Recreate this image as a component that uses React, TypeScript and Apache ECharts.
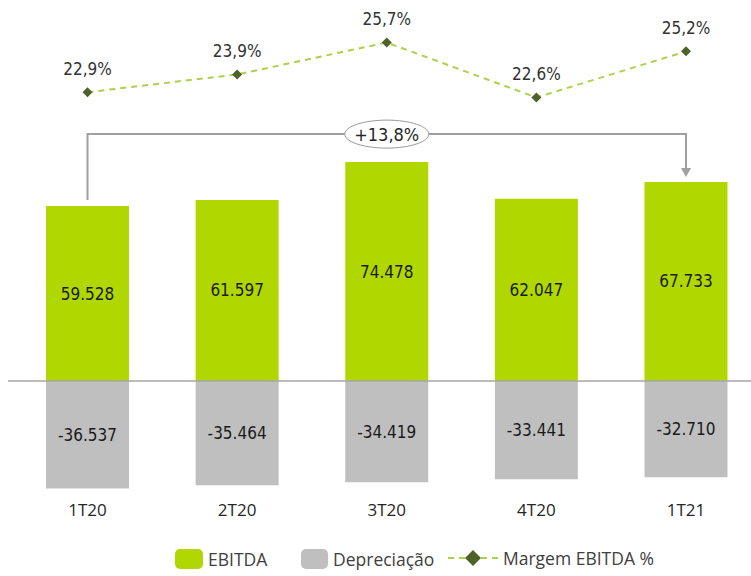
import React, { useEffect, useRef } from "react";
import * as echarts from "echarts";

const categories = ["1T20", "2T20", "3T20", "4T20", "1T21"];
const ebitda = [59528, 61597, 74478, 62047, 67733];
const depreciacao = [-36537, -35464, -34419, -33441, -32710];
const margem = [22.9, 23.9, 25.7, 22.6, 25.2];
const growthLabel = "+13,8%";
const seriesNames = ["EBITDA", "Depreciação", "Margem EBITDA %"];

const NARROW = "'DejaVu Sans Condensed', 'Liberation Sans Narrow', sans-serif";
const SANS = "'Open Sans', 'Noto Sans', sans-serif";

const fmtNum = (v: number) => {
  const s = Math.abs(v).toString().replace(/\B(?=(\d{3})+(?!\d))/g, ".");
  return (v < 0 ? "-" : "") + s;
};
const fmtPct = (v: number) => v.toFixed(1).replace(".", ",") + "%";

export default function App() {
  const ref = useRef<HTMLDivElement>(null);
  useEffect(() => {
    if (!ref.current) return;
    const chart = echarts.init(ref.current, null, { renderer: "svg" });
    const legendText = { fontSize: 17.5, fontFamily: SANS, color: "#404040" };
    const barLabel = {
      show: true,
      position: "inside",
      formatter: (p: any) => fmtNum(p.value),
      fontSize: 17,
      fontFamily: NARROW,
      color: "#1a1a1a",
    };
    chart.setOption({
      animation: false,
      backgroundColor: "#ffffff",
      grid: { left: 12.7, top: 28.3, width: 748.1, height: 470.3, containLabel: false },
      legend: [
        { data: [seriesNames[0]], left: 175, top: 549, padding: 0, itemWidth: 28, itemHeight: 20, textStyle: legendText },
        { data: [seriesNames[1]], left: 301, top: 549, padding: 0, itemWidth: 27, itemHeight: 20, textStyle: legendText },
        { data: [seriesNames[2]], left: 447, top: 549, padding: 0, itemWidth: 50, itemHeight: 20, textStyle: legendText },
      ],
      xAxis: {
        type: "category",
        data: categories,
        axisLine: { show: false, onZero: false },
        axisTick: { show: false },
        axisLabel: { margin: 2, fontSize: 17, fontFamily: SANS, color: "#262626" },
      },
      yAxis: [
        { type: "value", min: -40000, max: 120000, show: false },
        { type: "value", min: 0, max: 26.5, show: false },
      ],
      series: [
        {
          name: seriesNames[0],
          type: "bar",
          stack: "total",
          barWidth: 83,
          data: ebitda,
          itemStyle: { color: "#b0d800" },
          label: barLabel,
        },
        {
          name: seriesNames[1],
          type: "bar",
          stack: "total",
          barWidth: 83,
          data: depreciacao,
          itemStyle: { color: "#bfbfbf" },
          label: barLabel,
        },
        {
          name: seriesNames[2],
          type: "line",
          yAxisIndex: 1,
          data: margem,
          symbol: "diamond",
          symbolSize: [10, 10],
          itemStyle: { color: "#4f6228" },
          lineStyle: { color: "#abd14a", width: 2, type: [6, 5] },
          label: {
            show: true,
            position: "top",
            distance: 10,
            formatter: (p: any) => fmtPct(p.value),
            fontSize: 17,
            fontFamily: NARROW,
            color: "#333333",
          },
          z: 5,
        },
      ],
    });

    const first = chart.convertToPixel({ seriesIndex: 0 }, [0, ebitda[0]]) as number[];
    const lastIdx = ebitda.length - 1;
    const last = chart.convertToPixel({ seriesIndex: 0 }, [lastIdx, ebitda[lastIdx]]) as number[];
    const maxIdx = ebitda.indexOf(Math.max(...ebitda));
    const top = chart.convertToPixel({ seriesIndex: 0 }, [maxIdx, ebitda[maxIdx]]) as number[];
    const y0 = chart.convertToPixel({ yAxisIndex: 0 }, 0) as number;
    const by = top[1] - 28;
    const cx = (first[0] + last[0]) / 2;
    const stroke = "#a0a0a0";

    chart.setOption({
      graphic: [
        {
          type: "line",
          shape: { x1: 8, y1: y0, x2: 751, y2: y0 },
          style: { stroke: "#a6a6a6", lineWidth: 1.5 },
          z: 10,
        },
        {
          type: "polyline",
          shape: {
            points: [
              [first[0], first[1] - 6],
              [first[0], by],
              [last[0], by],
              [last[0], last[1] - 13],
            ],
          },
          style: { stroke, lineWidth: 2, fill: null },
          z: 10,
        },
        {
          type: "polygon",
          shape: {
            points: [
              [last[0] - 5, last[1] - 14],
              [last[0] + 5, last[1] - 14],
              [last[0], last[1] - 5],
            ],
          },
          style: { fill: stroke },
          z: 10,
        },
        {
          type: "ellipse",
          shape: { cx, cy: by, rx: 42, ry: 14 },
          style: { fill: "#ffffff", stroke: "#9a9a9a", lineWidth: 1 },
          z: 11,
        },
        {
          type: "text",
          x: cx,
          y: by,
          style: {
            text: growthLabel,
            x: 0,
            y: 0,
            align: "center",
            verticalAlign: "middle",
            fontSize: 18,
            fontFamily: NARROW,
            fill: "#262626",
          },
          z: 12,
        },
      ],
    });

    return () => chart.dispose();
  }, []);
  return (
    <div style={{ position: "absolute", left: 0, top: 0, width: 751, height: 576, overflow: "hidden" }}>
      <div ref={ref} style={{ width: 765, height: 576 }} />
    </div>
  );
}
